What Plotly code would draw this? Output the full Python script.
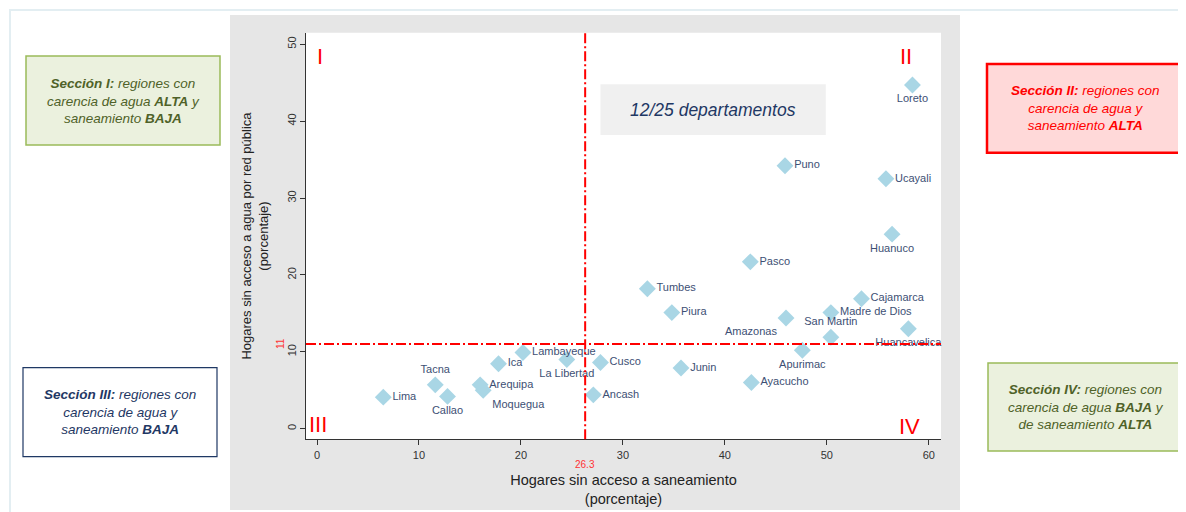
import plotly.graph_objects as go

# ---- data ----
departamentos = ["Loreto", "Puno", "Ucayali", "Huanuco", "Pasco", "Tumbes", "Piura",
                 "Amazonas", "Cajamarca", "Madre de Dios", "Huancavelica", "San Martin",
                 "Apurimac", "Cusco", "Junin", "Ayacucho", "Ancash", "Lambayeque",
                 "La Libertad", "Ica", "Tacna", "Arequipa", "Moquegua", "Callao", "Lima"]
saneamiento = [58.4, 45.9, 55.8, 56.4, 42.5, 32.4, 34.8, 46.0, 53.4, 50.4, 58.0, 50.4,
               47.6, 27.8, 35.7, 42.6, 27.1, 20.2, 24.5, 17.8, 11.6, 16.0, 16.3, 12.8, 6.5]
agua = [44.7, 34.2, 32.5, 25.3, 21.7, 18.2, 15.1, 14.4, 16.9, 15.1, 13.0, 11.9,
        10.2, 8.6, 7.9, 6.0, 4.4, 9.9, 9.0, 8.45, 5.7, 5.7, 5.0, 4.2, 4.1]
label_pos = ["bottom center", "middle right", "middle right", "bottom center", "middle right",
             "middle right", "middle right", "bottom left", "middle right", "middle right",
             "bottom center", "top center", "bottom center", "middle right", "middle right",
             "middle right", "middle right", "middle right", "bottom center", "middle right",
             "top center", "middle right", "bottom right", "bottom center", "middle right"]
umbral_x = 26.3
umbral_y = 11
x_ticks = [0, 10, 20, 30, 40, 50, 60]
y_ticks = [0, 10, 20, 30, 40, 50]

# the page body has an 8px margin, so the figure is drawn 8px in from the corner
OFF = 8
W, H = 1186 - OFF, 512 - OFF
def px(x):
    return (x - OFF) / W
def py(y):
    return 1 - (y - OFF) / H

FONT = "Liberation Sans, Arial"

fig = go.Figure()

fig.add_trace(go.Scatter(
    x=saneamiento, y=agua, mode="markers+text", text=departamentos,
    textposition=label_pos,
    marker=dict(symbol="diamond", size=13, color="#a9d6e5", line=dict(width=0)),
    textfont=dict(family=FONT, size=11, color="#3d4f74"),
    showlegend=False, cliponaxis=False, hoverinfo="skip"))

shapes = []
# page frame
shapes.append(dict(type="rect", xref="paper", yref="paper", x0=px(10), x1=px(1181), y0=py(514), y1=py(10),
                   line=dict(color="#e3eef2", width=2), fillcolor="rgba(0,0,0,0)", layer="below"))
# gray panel
shapes.append(dict(type="rect", xref="paper", yref="paper", x0=px(230), x1=px(960), y0=py(510), y1=py(15),
                   line=dict(width=0), fillcolor="#e6e6e6", layer="below"))
# white plot region
shapes.append(dict(type="rect", xref="paper", yref="paper", x0=px(306), x1=px(941), y0=py(439.3), y1=py(32.7),
                   line=dict(width=0), fillcolor="white", layer="below"))
# 12/25 box
shapes.append(dict(type="rect", xref="x", yref="y", x0=27.8, x1=49.9, y0=38.2, y1=44.8,
                   line=dict(width=0), fillcolor="#f0f0f0", layer="below"))
# threshold lines
shapes.append(dict(type="line", xref="x", yref="paper", x0=umbral_x, x1=umbral_x, y0=py(439.3), y1=py(32.7),
                   line=dict(color="#ff0000", width=2, dash="10px,3px,2px,3px")))
shapes.append(dict(type="line", xref="paper", yref="y", x0=px(306), x1=px(941), y0=umbral_y, y1=umbral_y,
                   line=dict(color="#ff0000", width=2, dash="10px,3px,2px,3px")))

# section boxes
boxes = [
    (26, 220, 56, 145, "#ebf1de", "#9bbb59", 1.5),
    (987, 1184, 64, 152.7, "#ffd9d9", "#ff0000", 2.5),
    (23, 217, 367.7, 456.7, "#ffffff", "#1f3864", 1.2),
    (988, 1183, 363, 451, "#ebf1de", "#9bbb59", 1.5),
]
for x0, x1, y0, y1, fill, border, lw in boxes:
    shapes.append(dict(type="rect", xref="paper", yref="paper", x0=px(x0), x1=px(x1), y0=py(y1), y1=py(y0),
                       line=dict(color=border, width=lw), fillcolor=fill))

annotations = []
box_texts = [
    ((26 + 220) / 2, (56 + 145) / 2, "#4f6228",
     "<b><i>Sección I:</i></b><i> regiones con</i><br><i>carencia de agua </i><b><i>ALTA</i></b><i> y</i><br><i>saneamiento </i><b><i>BAJA</i></b>"),
    ((987 + 1184) / 2, (64 + 152.7) / 2, "#ff0000",
     "<b><i>Sección II:</i></b><i> regiones con</i><br><i>carencia de agua y</i><br><i>saneamiento </i><b><i>ALTA</i></b>"),
    ((23 + 217) / 2, (367.7 + 456.7) / 2, "#1f3864",
     "<b><i>Sección III:</i></b><i> regiones con</i><br><i>carencia de agua y</i><br><i>saneamiento </i><b><i>BAJA</i></b>"),
    ((988 + 1183) / 2, (363 + 451) / 2, "#4f6228",
     "<b><i>Sección IV:</i></b><i> regiones con</i><br><i>carencia de agua </i><b><i>BAJA</i></b><i> y</i><br><i>de saneamiento </i><b><i>ALTA</i></b>"),
]
for cx, cy, col, txt in box_texts:
    annotations.append(dict(xref="paper", yref="paper", x=px(cx), y=py(cy), text=txt, showarrow=False,
                            xanchor="center", yanchor="middle", align="center",
                            font=dict(family=FONT, size=13.5, color=col)))

# roman numerals
for xx, yy, t in [(0.3, 48.4, "I"), (57.8, 48.4, "II"), (0.1, 0.6, "III"), (58.1, 0.3, "IV")]:
    annotations.append(dict(xref="x", yref="y", x=xx, y=yy, text=t, showarrow=False,
                            xanchor="center", yanchor="middle",
                            font=dict(family=FONT, size=22, color="#ff0000")))

annotations.append(dict(xref="x", yref="y", x=(27.8 + 49.9) / 2, y=(38.2 + 44.8) / 2,
                        text="<i>12/25 departamentos</i>", showarrow=False,
                        font=dict(family=FONT, size=17.5, color="#1f3864")))
annotations.append(dict(xref="x", yref="paper", x=umbral_x, y=py(464.5), text=str(umbral_x), showarrow=False,
                        xanchor="center", yanchor="middle",
                        font=dict(family=FONT, size=10, color="#ff3333")))
annotations.append(dict(xref="paper", yref="y", x=px(280), y=umbral_y, text=str(umbral_y), showarrow=False,
                        textangle=-90, xanchor="center", yanchor="middle",
                        font=dict(family=FONT, size=10, color="#ff3333")))

fig.update_layout(
    width=W, height=H, margin=dict(l=0, r=0, t=0, b=0),
    paper_bgcolor="white", plot_bgcolor="white",
    shapes=shapes, annotations=annotations,
    xaxis=dict(domain=[px(306), px(941)], range=[-1.08, 61.2], tickvals=x_ticks,
               showgrid=False, zeroline=False, showline=True, linecolor="#333", linewidth=1,
               ticks="outside", ticklen=5, tickcolor="#333",
               tickfont=dict(family=FONT, size=11, color="#333"),
               title=dict(text="Hogares sin acceso a saneamiento<br>(porcentaje)", standoff=15,
                          font=dict(family=FONT, size=14.5, color="#222"))),
    yaxis=dict(domain=[py(439.3), py(32.7)], range=[-1.38, 51.5], tickvals=y_ticks,
               showgrid=False, zeroline=False, showline=True, linecolor="#333", linewidth=1,
               ticks="outside", ticklen=5, tickcolor="#333", tickangle=-90,
               tickfont=dict(family=FONT, size=11, color="#333"),
               title=dict(text="Hogares sin acceso a agua por red pública<br>(porcentaje)", standoff=14,
                          font=dict(family=FONT, size=13, color="#222"))),
)

fig.write_html("out.html")
